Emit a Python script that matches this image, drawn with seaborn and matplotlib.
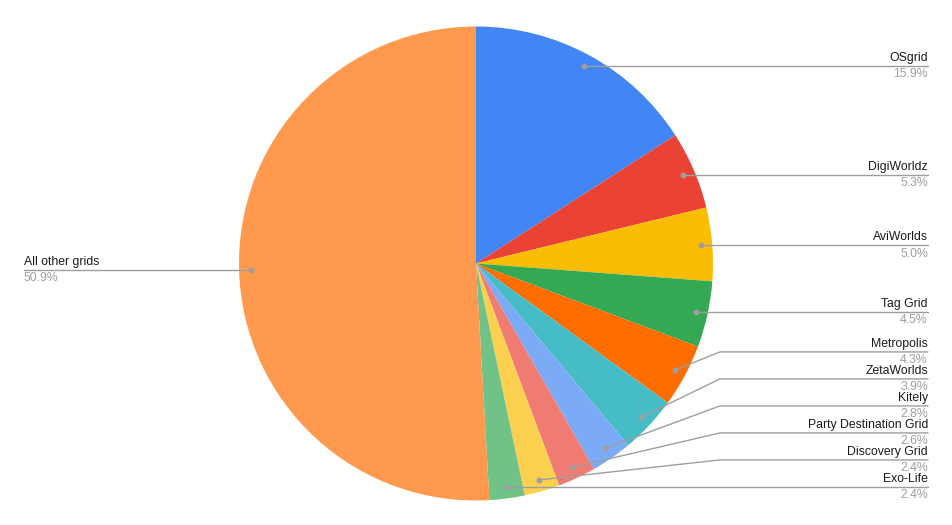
import matplotlib.pyplot as plt
import numpy as np
import seaborn as sns

grids = ["OSgrid", "DigiWorldz", "AviWorlds", "Tag Grid", "Metropolis",
         "ZetaWorlds", "Kitely", "Party Destination Grid", "Discovery Grid",
         "Exo-Life", "All other grids"]
shares = [15.9, 5.3, 5.0, 4.5, 4.3, 3.9, 2.8, 2.6, 2.4, 2.4, 50.9]
colors = ["#4285F4", "#EA4335", "#FBBC04", "#34A853", "#FF6D01", "#46BDC6",
          "#7BAAF7", "#F07B72", "#FCD04F", "#71C287", "#FF994D"]

sns.set_theme(style="white")
plt.rcParams['font.family'] = ['Liberation Sans', 'DejaVu Sans']

W, H = 953, 525
cx, cy, R = 476, H - 263.5, 237
gap = 27
line_col = "#9E9E9E"

fig = plt.figure(figsize=(W / 100, H / 100), dpi=100)
ax = fig.add_axes([0, 0, 1, 1])

wedges, _ = ax.pie(shares, colors=sns.color_palette(colors), startangle=90,
                   counterclock=False, center=(cx, cy), radius=R,
                   wedgeprops=dict(linewidth=0))
ax.set_xlim(0, W)
ax.set_ylim(0, H)
ax.axis('off')

# anchor dots inside each slice
anchors = []
for w in wedges:
    a = np.deg2rad((w.theta1 + w.theta2) / 2)
    anchors.append((cx + 0.951 * R * np.cos(a), cy + 0.951 * R * np.sin(a)))

# stack right-hand labels so they don't overlap
right = [i for i, (x, y) in enumerate(anchors) if x >= cx]
right.sort(key=lambda i: anchors[i][1])  # bottom first
label_y = {}
prev = None
for i in right:
    y = anchors[i][1]
    if prev is not None:
        y = max(y, prev + gap)
    label_y[i] = y
    prev = y
for i, (x, y) in enumerate(anchors):
    if i not in label_y:
        label_y[i] = y

for i, name in enumerate(grids):
    x0, y0 = anchors[i]
    ly = label_y[i]
    ax.plot([x0], [y0], 'o', ms=3.2, color=line_col, zorder=5)
    if x0 >= cx:
        ax.plot([x0, 720, 928], [y0, ly, ly], color=line_col, lw=1, zorder=4)
        tx, ha = 928, 'right'
    else:
        ax.plot([x0, 24], [y0, ly], color=line_col, lw=1, zorder=4)
        tx, ha = 24, 'left'
    ax.text(tx, ly + 2, name, ha=ha, va='bottom', fontsize=8.8, color="#1a1a1a")
    ax.text(tx, ly - 2.5, f"{shares[i]:.1f}%", ha=ha, va='top', fontsize=8.8,
            color="#9E9E9E")

fig.savefig("out.png", dpi=100)
